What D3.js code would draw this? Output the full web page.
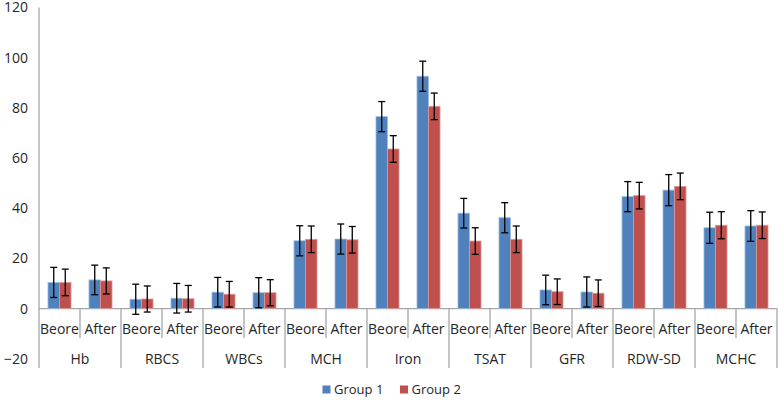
<!DOCTYPE html>
<html>
<head>
<meta charset="utf-8">
<script src="https://cdn.jsdelivr.net/npm/d3@7"></script>
<style>
  body { margin: 0; background: #fff; }
  svg { display: block; font-family: "Open Sans", sans-serif; }
</style>
</head>
<body>
<svg id="chart" width="779" height="400"></svg>
<script>
const categories = ["Hb", "RBCS", "WBCs", "MCH", "Iron", "TSAT", "GFR", "RDW-SD", "MCHC"];
const phases = ["Beore", "After"];
const seriesNames = ["Group 1", "Group 2"];
const group1 = [10.4, 11.4, 3.7, 4.1, 6.5, 6.3, 27.0, 27.7, 76.5, 92.6, 38.0, 36.2, 7.4, 6.6, 44.6, 47.2, 32.2, 32.9];
const group2 = [10.4, 11.0, 3.8, 3.9, 5.7, 6.3, 27.6, 27.4, 63.6, 80.6, 26.9, 27.6, 6.7, 6.1, 45.0, 48.7, 33.2, 33.2];
const err1 = [6.0, 5.9, 6.0, 5.9, 5.9, 6.0, 6.0, 6.0, 6.0, 6.0, 5.9, 6.0, 5.9, 6.0, 6.0, 6.2, 6.2, 6.1];
const err2 = [5.3, 5.2, 5.2, 5.3, 5.1, 5.2, 5.3, 5.3, 5.3, 5.3, 5.3, 5.3, 5.1, 5.3, 5.3, 5.3, 5.4, 5.3];
const yTicks = [-20, 0, 20, 40, 60, 80, 100, 120];

const colors = ["#4F81BD", "#C0504D"];
const strokes = ["#9dbbe0", "#dc9a98"];
const axisColor = "#a6a6a6";
const textColor = "#262626";

const svg = d3.select("#chart");
const plotLeft = 39, plotRight = 777, plotTop = 7.5, plotBottom = 358.7;

const y = d3.scaleLinear().domain([-20, 120]).range([plotBottom, plotTop]);
const x0 = d3.scaleBand().domain(categories).range([plotLeft, plotRight]).padding(0);
const x1 = d3.scaleBand().domain(phases).range([0, x0.bandwidth()]).padding(0);
const x2 = d3.scaleBand().domain(seriesNames).range([0, x1.bandwidth()]).paddingInner(0).paddingOuter(0.78);

// rows of data
const rows = [];
categories.forEach((c, i) => {
  phases.forEach((p, j) => {
    const k = i * 2 + j;
    rows.push({cat: c, phase: p, vals: [
      {s: seriesNames[0], v: group1[k], e: err1[k], ci: 0},
      {s: seriesNames[1], v: group2[k], e: err2[k], ci: 1}
    ]});
  });
});

// Y axis labels
const yAxis = d3.axisLeft(y).tickValues(yTicks).tickSize(0).tickPadding(11).tickFormat(d3.format("d"));
const gy = svg.append("g").attr("transform", `translate(${plotLeft},0)`).call(yAxis);
gy.select(".domain").remove();
gy.selectAll("text").attr("fill", textColor).style("font-size", "14px").style("font-family", "'Open Sans', sans-serif");

// axis lines
svg.append("line").attr("x1", plotLeft).attr("x2", plotLeft).attr("y1", y(120)).attr("y2", 368)
  .attr("stroke", axisColor).attr("stroke-width", 1.3);
svg.append("line").attr("x1", plotLeft).attr("x2", plotRight).attr("y1", y(0)).attr("y2", y(0))
  .attr("stroke", axisColor).attr("stroke-width", 1.3);

// category dividers
categories.forEach((c, i) => {
  const xe = x0(c) + x0.bandwidth();
  svg.append("line").attr("x1", xe).attr("x2", xe).attr("y1", y(0)).attr("y2", 368)
    .attr("stroke", axisColor).attr("stroke-width", 1.3);
  const xm = x0(c) + x1("After");
  svg.append("line").attr("x1", xm).attr("x2", xm).attr("y1", y(0)).attr("y2", 338)
    .attr("stroke", axisColor).attr("stroke-width", 1.3);
});

// bars
const groups = svg.append("g").selectAll("g").data(rows).join("g")
  .attr("transform", d => `translate(${x0(d.cat) + x1(d.phase)},0)`);

groups.selectAll("rect").data(d => d.vals).join("rect")
  .attr("x", d => x2(d.s))
  .attr("width", x2.bandwidth())
  .attr("y", d => y(Math.max(0, d.v)))
  .attr("height", d => Math.abs(y(d.v) - y(0)))
  .attr("fill", d => colors[d.ci])
  .attr("stroke", d => strokes[d.ci])
  .attr("stroke-width", 0.8);

// error bars
const cap = 3.5;
const eb = groups.selectAll("g.err").data(d => d.vals).join("g").attr("class", "err")
  .attr("transform", d => `translate(${x2(d.s) + x2.bandwidth() / 2},0)`);
eb.append("line").attr("x1", 0).attr("x2", 0)
  .attr("y1", d => y(d.v + d.e)).attr("y2", d => y(d.v - d.e))
  .attr("stroke", "#000").attr("stroke-width", 1.3);
eb.append("line").attr("x1", -cap).attr("x2", cap)
  .attr("y1", d => y(d.v + d.e)).attr("y2", d => y(d.v + d.e))
  .attr("stroke", "#000").attr("stroke-width", 1.3);
eb.append("line").attr("x1", -cap).attr("x2", cap)
  .attr("y1", d => y(d.v - d.e)).attr("y2", d => y(d.v - d.e))
  .attr("stroke", "#000").attr("stroke-width", 1.3);

// sub labels
rows.forEach(r => {
  svg.append("text")
    .attr("x", x0(r.cat) + x1(r.phase) + x1.bandwidth() / 2)
    .attr("y", 329).attr("dy", "0.35em")
    .attr("text-anchor", "middle").attr("fill", textColor)
    .style("font-size", "14px").text(r.phase);
});
// category labels
categories.forEach(c => {
  svg.append("text")
    .attr("x", x0(c) + x0.bandwidth() / 2)
    .attr("y", 359).attr("dy", "0.35em")
    .attr("text-anchor", "middle").attr("fill", textColor)
    .style("font-size", "14px").text(c);
});

// legend
const legendX = [322.5, 400];
seriesNames.forEach((s, i) => {
  svg.append("rect").attr("x", legendX[i]).attr("y", 385.5).attr("width", 8).attr("height", 8)
    .attr("fill", colors[i]);
  svg.append("text").attr("x", legendX[i] + 11.5).attr("y", 389.5).attr("dy", "0.35em")
    .attr("fill", textColor).style("font-size", "13px").text(s);
});
</script>
</body>
</html>
